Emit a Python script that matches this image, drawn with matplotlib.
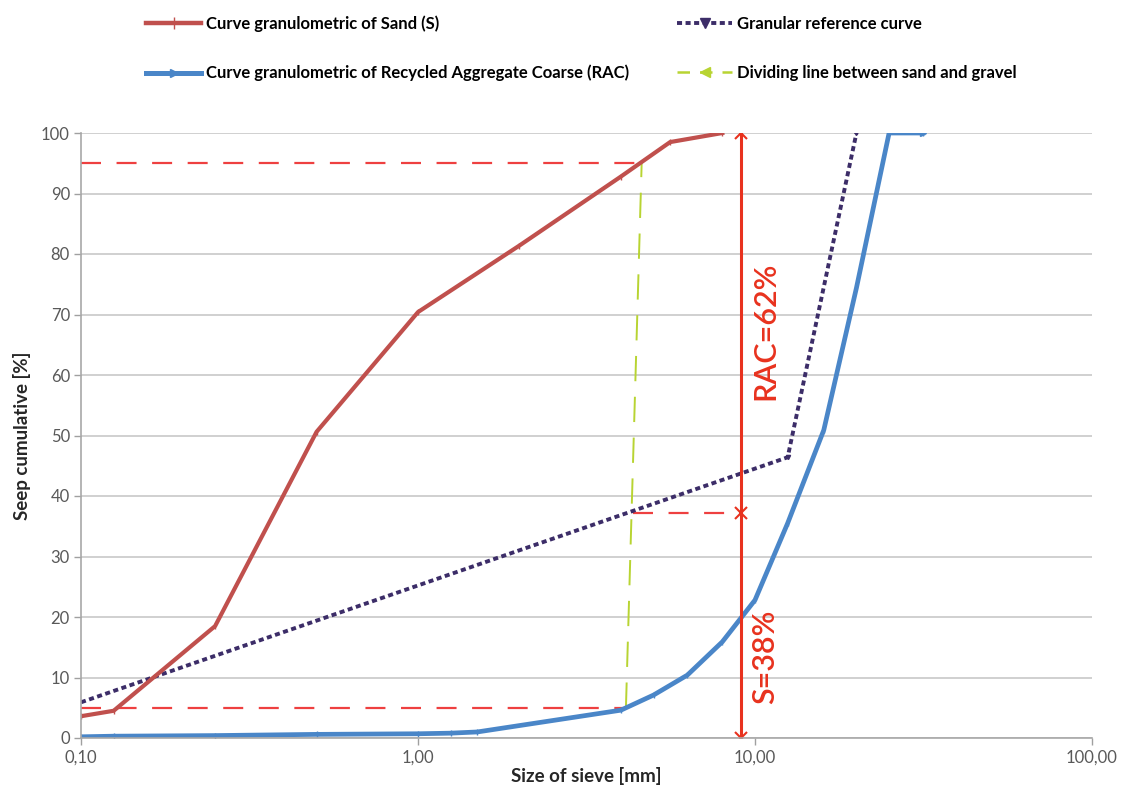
import matplotlib
matplotlib.use("Agg")
import matplotlib.pyplot as plt
from matplotlib.lines import Line2D
from matplotlib.ticker import FixedLocator, FixedFormatter, NullLocator

plt.rcParams['font.family'] = ['Lato', 'DejaVu Sans']

# Sieve sizes [mm] and cumulative passing [%]
sand_size = [0.1, 0.125, 0.25, 0.5, 1.0, 2.0, 4.0, 5.6, 8.0]
sand_pass = [3.6, 4.5, 18.5, 50.6, 70.4, 81.4, 92.8, 98.5, 100.0]

rac_size = [0.1, 0.125, 0.25, 0.5, 1.0, 1.25, 1.5, 4.0, 5.0, 6.3, 8.0, 10.0, 12.5, 16.0, 20.0, 25.0, 31.5]
rac_pass = [0.2, 0.3, 0.4, 0.6, 0.7, 0.8, 1.0, 4.6, 7.1, 10.4, 15.9, 22.8, 35.5, 50.9, 74.4, 100.0, 100.0]

ref_size = [0.1, 12.5, 20.0]
ref_pass = [5.9, 46.4, 100.0]

# Dividing line between sand and gravel
div_size = [4.14, 4.61]
div_pass = [5.0, 95.0]

# Split of the blend
split_size = 9.1
split_marks = [0.0, 37.2, 100.0]
sand_share = 38
rac_share = 62

x_ticks = [0.1, 1, 10, 100]
x_labels = ["0,10", "1,00", "10,00", "100,00"]
y_ticks = list(range(0, 101, 10))

c_sand = "#C0504D"
c_rac = "#4A86C8"
c_ref = "#3C2D68"
c_div = "#B8D432"
c_split = "#E8321E"
c_guide = "#EE4040"

fig = plt.figure(figsize=(11.28, 7.88), dpi=100)
ax = fig.add_axes([81/1128, 1-738/788, (1092-81)/1128, (738-133)/788])

ax.set_xscale('log')
ax.set_xlim(0.1, 100)
ax.set_ylim(0, 100)

ax.xaxis.set_major_locator(FixedLocator(x_ticks))
ax.xaxis.set_major_formatter(FixedFormatter(x_labels))
ax.xaxis.set_minor_locator(NullLocator())
ax.set_yticks(y_ticks)
ax.set_yticklabels([str(v) for v in y_ticks])
ax.tick_params(axis='both', colors='#A0A0A0', labelcolor='#595959', labelsize=12,
               length=5, width=1)
ax.tick_params(axis='y', pad=3)
ax.grid(axis='y', color='#C8C8C8', linewidth=1.2)
ax.set_axisbelow(True)
for side in ['top', 'right']:
    ax.spines[side].set_visible(False)
for side in ['left', 'bottom']:
    ax.spines[side].set_color('#A8A8A8')
    ax.spines[side].set_linewidth(1.2)

# Guide lines
ax.plot([0.1, div_size[1]], [95, 95], color=c_guide, lw=1.6, dashes=(9, 7))
ax.plot([0.1, div_size[0]], [5, 5], color=c_guide, lw=1.6, dashes=(9, 7))
ax.plot([4.35, split_size], [split_marks[1], split_marks[1]], color=c_guide, lw=1.6,
        dashes=(9, 7))

ax.plot(div_size, div_pass, color=c_div, lw=1.4, dashes=(13, 8))

ax.plot(ref_size, ref_pass, color=c_ref, lw=2.8, linestyle=(0, (1.3, 0.9)),
        marker='v', markersize=3, markevery=[1, 2])
ax.plot(sand_size, sand_pass, color=c_sand, lw=3.0, marker='|', markersize=4)
ax.plot(rac_size, rac_pass, color=c_rac, lw=3.4, marker='|', markersize=4)
ax.plot(rac_size[-1:], rac_pass[-1:], color=c_rac, marker='>', markersize=5, lw=0)

ax.plot([split_size, split_size], [0, 100], color=c_split, lw=2.2)
ax.plot([split_size] * 3, split_marks, color=c_split, lw=0, marker='x', markersize=9,
        markeredgewidth=1.5)

ax.text(10.7, 67.3, f"RAC={rac_share}%", rotation=90, color=c_split, fontsize=22,
        fontweight='semibold', ha='center', va='center')
ax.text(10.7, 13.5, f"S={sand_share}%", rotation=90, color=c_split, fontsize=22,
        fontweight='semibold', ha='center', va='center')

ax.set_xlabel("Size of sieve [mm]", fontsize=13.5, fontweight='bold', color='#262626',
              labelpad=1)
ax.set_ylabel("Seep cumulative [%]", fontsize=13.5, fontweight='bold', color='#262626',
              labelpad=7)

handles = [
    Line2D([], [], color=c_sand, lw=3.2, marker='|', markersize=8),
    Line2D([], [], color=c_rac, lw=3.6, marker='>', markersize=6),
    Line2D([], [], color=c_ref, lw=2.8, linestyle=(0, (1.3, 0.9)), marker='v', markersize=7),
    Line2D([], [], color=c_div, lw=1.8, dashes=(5, 4), marker='<', markersize=7),
]
labels = [
    "Curve granulometric of Sand (S)",
    "Curve granulometric of Recycled Aggregate Coarse (RAC)",
    "Granular reference curve",
    "Dividing line between sand and gravel",
]
fig.legend(handles, labels, ncol=2, loc='upper left', bbox_to_anchor=(131/1128, 1.0),
           frameon=False, handlelength=3.3, handletextpad=0.3,
           columnspacing=2.9, labelspacing=2.0, prop={'weight': 'bold', 'size': 12})

fig.savefig("out.png", dpi=100, facecolor='white')
